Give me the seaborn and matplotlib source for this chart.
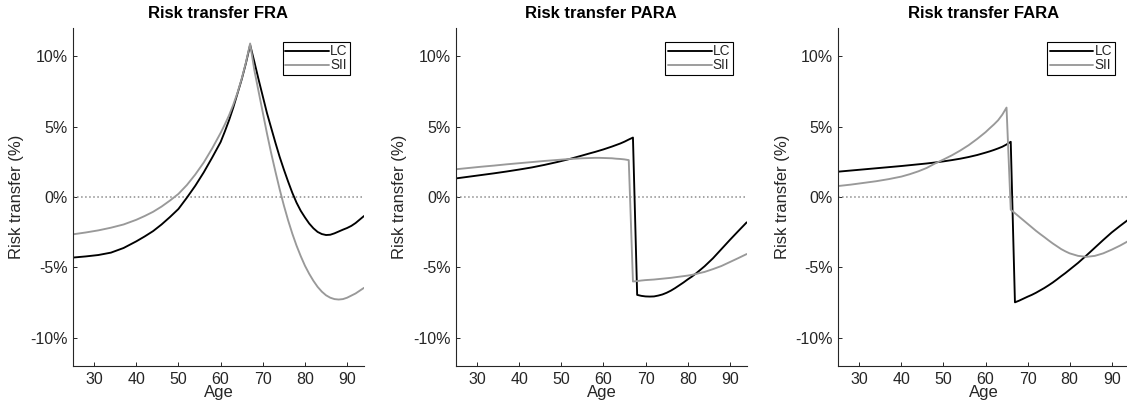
import numpy as np
import pandas as pd
import matplotlib
matplotlib.use("Agg")
import matplotlib.pyplot as plt
from matplotlib.lines import Line2D
import seaborn as sns

# ---------------- data ----------------
titles = ["Risk transfer FRA", "Risk transfer PARA", "Risk transfer FARA"]
series_names = ["LC", "SII"]

fra_age = [25, 28, 31, 34, 37, 40, 42, 44, 46, 48, 50, 52, 54, 56, 58, 60, 61, 62, 63,
           64, 65, 66, 67, 68, 69, 70, 71, 72, 73, 74, 75, 76, 77, 78, 79, 80, 81,
           82, 83, 84, 85, 86, 87, 88, 89, 90, 91, 92, 93, 94]
fra_lc = [-4.30, -4.22, -4.12, -3.95, -3.62, -3.15, -2.80, -2.42, -1.95, -1.42, -0.85,
          -0.05, 0.80, 1.75, 2.80, 3.90, 4.65, 5.45, 6.35, 7.35, 8.35, 9.50, 10.80,
          9.60, 8.35, 7.15, 5.95, 4.90, 3.85, 2.85, 1.95, 1.10, 0.30, -0.40, -0.98,
          -1.45, -1.88, -2.22, -2.48, -2.63, -2.70, -2.68, -2.58, -2.45, -2.32, -2.20,
          -2.05, -1.85, -1.60, -1.35]
fra_sii = [-2.65, -2.52, -2.37, -2.18, -1.95, -1.62, -1.35, -1.05, -0.68, -0.25, 0.22,
           0.85, 1.60, 2.45, 3.45, 4.55, 5.15, 5.80, 6.55, 7.40, 8.40, 9.55, 10.90,
           9.00, 7.50, 6.00, 4.50, 3.10, 1.80, 0.55, -0.60, -1.65, -2.60, -3.45, -4.20,
           -4.88, -5.45, -5.95, -6.38, -6.72, -6.98, -7.15, -7.25, -7.28, -7.25, -7.15,
           -7.00, -6.85, -6.65, -6.45]

para_age = [25, 28, 31, 34, 37, 40, 43, 46, 49, 52, 55, 57, 58, 59, 60, 61, 62, 63, 64,
            65, 66, 67, 68, 69, 70, 71, 72, 73, 74, 75, 76, 77, 78, 79, 80, 81, 82,
            84, 86, 88, 90, 92, 94]
para_lc = [1.32, 1.44, 1.56, 1.68, 1.81, 1.95, 2.10, 2.28, 2.48, 2.70, 2.95, 3.12, 3.20,
           3.29, 3.38, 3.48, 3.58, 3.69, 3.80, 3.93, 4.08, 4.22,
           -6.95, -7.02, -7.06, -7.07, -7.06, -7.00, -6.92, -6.80, -6.65, -6.47, -6.27,
           -6.07, -5.85, -5.65, -5.42, -4.92, -4.35, -3.70, -3.05, -2.42, -1.80]
para_sii = [1.97, 2.06, 2.15, 2.23, 2.32, 2.40, 2.48, 2.56, 2.63, 2.70, 2.75, 2.77, 2.78,
            2.78, 2.77, 2.76, 2.75, 2.72, 2.70, 2.67, 2.62, -6.00,
            -5.97, -5.93, -5.90, -5.88, -5.86, -5.83, -5.80, -5.77, -5.74, -5.70, -5.66,
            -5.62, -5.58, -5.53, -5.46, -5.32, -5.12, -4.90, -4.62, -4.34, -4.05]

fara_age = [25, 28, 31, 34, 37, 40, 42, 44, 46, 48, 50, 52, 54, 56, 58, 60, 61, 62, 63,
            64, 65, 66, 67, 68, 69, 70, 71, 72, 73, 74, 75, 76, 77, 78, 79, 80, 82,
            84, 86, 88, 90, 92, 94]
fara_lc = [1.80, 1.88, 1.96, 2.04, 2.12, 2.20, 2.26, 2.32, 2.38, 2.45, 2.53, 2.62, 2.72,
           2.84, 2.98, 3.15, 3.24, 3.34, 3.45, 3.57, 3.73, 3.92,
           -7.48, -7.36, -7.22, -7.08, -6.95, -6.80, -6.63, -6.46, -6.27, -6.07, -5.85,
           -5.62, -5.40, -5.16, -4.68, -4.15, -3.60, -3.05, -2.52, -2.05, -1.60]
fara_sii = [0.78, 0.88, 1.00, 1.12, 1.27, 1.45, 1.62, 1.82, 2.06, 2.38, 2.66, 2.96, 3.30,
            3.68, 4.12, 4.60, 4.88, 5.15, 5.45, 5.85, 6.35, -0.90,
            -1.15, -1.40, -1.65, -1.90, -2.15, -2.40, -2.63, -2.85, -3.08, -3.30, -3.50,
            -3.70, -3.86, -4.00, -4.18, -4.25, -4.18, -4.00, -3.74, -3.45, -3.12]

yticks = [-10, -5, 0, 5, 10]
ytick_labels = ["-10%", "-5%", "0%", "5%", "10%"]
xticks = [30, 40, 50, 60, 70, 80, 90]

panels = [
    (fra_age, fra_lc, fra_sii),
    (para_age, para_lc, para_sii),
    (fara_age, fara_lc, fara_sii),
]

# ---------------- style ----------------
sns.set_style("ticks")
plt.rcParams["font.family"] = ["Liberation Sans", "DejaVu Sans"]
dark = "#262626"
palette = {"LC": "black", "SII": "#999999"}

W, H = 1127, 405
fig = plt.figure(figsize=(W / 100, H / 100), dpi=100)

lefts = [73, 456, 838.3]
widths = [291, 290.7, 290.2]
top, bottom = 28, 366

for i, (age, lc, sii) in enumerate(panels):
    ax = fig.add_axes([lefts[i] / W, (H - bottom) / H, widths[i] / W, (bottom - top) / H])
    df = pd.concat([
        pd.DataFrame({"age": age, "value": lc, "series": "LC"}),
        pd.DataFrame({"age": age, "value": sii, "series": "SII"}),
    ], ignore_index=True)
    ax.axhline(0, ls=":", color="#8c8c8c", lw=1.1, zorder=1)
    sns.lineplot(data=df, x="age", y="value", hue="series", hue_order=series_names,
                 palette=palette, estimator=None, sort=False, lw=1.35,
                 legend=False, ax=ax, zorder=2)
    ax.set_xlim(25, 94)
    ax.set_ylim(-12, 12)
    ax.set_xticks(xticks)
    ax.set_yticks(yticks)
    ax.set_yticklabels(ytick_labels)
    ax.tick_params(direction="in", length=3, width=0.7, colors=dark,
                   labelsize=11.5, pad=4)
    for s in ["top", "right"]:
        ax.spines[s].set_visible(False)
    for s in ["left", "bottom"]:
        ax.spines[s].set_color(dark)
        ax.spines[s].set_linewidth(0.8)
    ax.set_xlabel("Age", fontsize=12, color=dark, labelpad=-1)
    ax.set_ylabel("Risk transfer (%)", fontsize=12, color=dark, labelpad=4)
    ax.set_title(titles[i], fontsize=12, fontweight="bold", color="black", pad=7)
    handles = [Line2D([], [], color=palette[n], lw=1.35) for n in series_names]
    leg = ax.legend(handles, series_names, loc="upper right", fontsize=9.8,
                    frameon=True, fancybox=False, edgecolor="black",
                    handlelength=3.2, handletextpad=0.1, labelspacing=0.0,
                    borderpad=0.2, borderaxespad=1.0)
    leg.get_frame().set_linewidth(0.8)
    leg.get_frame().set_alpha(1)

fig.savefig("out.png", dpi=100)
